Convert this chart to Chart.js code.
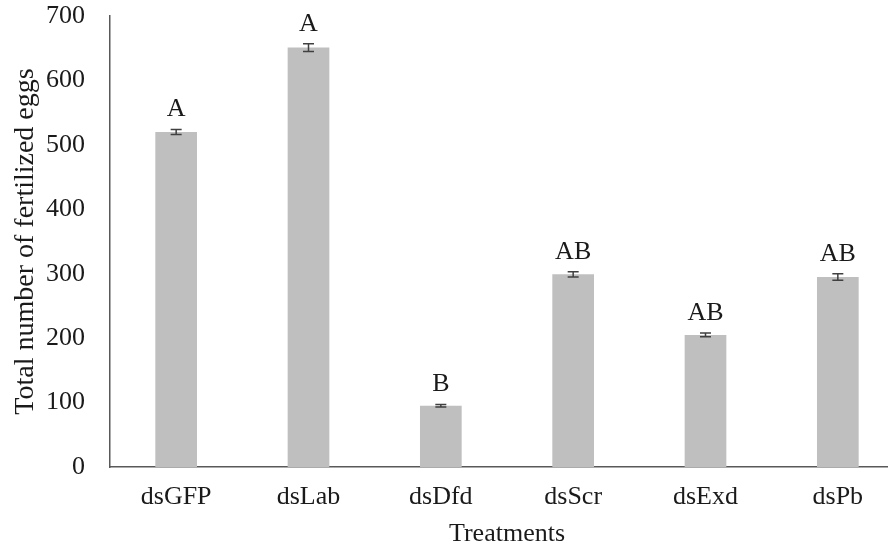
<!DOCTYPE html>
<html>
<head>
<meta charset="utf-8">
<script src="https://cdn.jsdelivr.net/npm/chart.js@4"></script>
<style>
  html, body { margin: 0; padding: 0; background: #fff; overflow: hidden; }
  #wrap { position: relative; width: 910px; height: 550px; }
</style>
</head>
<body>
<div id="wrap"><canvas id="chart"></canvas></div>
<script>
'use strict'

/* global Chart */

const treatments = ['dsGFP', 'dsLab', 'dsDfd', 'dsScr', 'dsExd', 'dsPb']
const eggMeans = [520, 651, 95, 299, 205, 295]
const eggErrors = [4, 6, 2, 4, 3, 5]
const groupLetters = ['A', 'A', 'B', 'AB', 'AB', 'AB']

const serif = "'Liberation Serif', 'Times New Roman', serif"

// error bars + significance letters on top of the bars
const annotate = {
  id: 'annotate',
  afterDatasetsDraw (chart) {
    const ctx = chart.ctx
    const y = chart.scales.y
    const meta = chart.getDatasetMeta(0)
    ctx.save()
    meta.data.forEach((bar, i) => {
      const x = bar.x
      const top = y.getPixelForValue(eggMeans[i] + eggErrors[i])
      const bottom = y.getPixelForValue(eggMeans[i] - eggErrors[i])
      ctx.strokeStyle = '#404040'
      ctx.lineWidth = 1.5
      ctx.beginPath()
      ctx.moveTo(x, top)
      ctx.lineTo(x, bottom)
      ctx.moveTo(x - 5.5, top)
      ctx.lineTo(x + 5.5, top)
      ctx.moveTo(x - 5.5, bottom)
      ctx.lineTo(x + 5.5, bottom)
      ctx.stroke()

      ctx.fillStyle = '#1a1a1a'
      ctx.font = '26px ' + serif
      ctx.textAlign = 'center'
      ctx.textBaseline = 'middle'
      ctx.fillText(groupLetters[i], x, top - 20)
    })
    ctx.restore()
  }
}

const chart = new Chart(document.getElementById('chart'), {
  type: 'bar',
  data: {
    labels: treatments,
    datasets: [{
      label: 'Total number of fertilized eggs',
      data: eggMeans,
      backgroundColor: '#bfbfbf',
      borderWidth: 0,
      barPercentage: 0.315,
      categoryPercentage: 1
    }]
  },
  options: {
    responsive: true,
    maintainAspectRatio: false,
    animation: false,
    layout: {
      padding: { top: 16, right: 6, left: 0, bottom: 0 }
    },
    plugins: {
      legend: { display: false },
      tooltip: { enabled: false }
    },
    scales: {
      x: {
        grid: { display: false, drawTicks: false },
        border: { display: true, color: '#595959', width: 1.5 },
        ticks: {
          color: '#1a1a1a',
          padding: 15,
          font: { family: serif, size: 26 }
        },
        title: {
          display: true,
          text: 'Treatments',
          color: '#1a1a1a',
          padding: { top: 0, bottom: 0 },
          font: { family: serif, size: 26 }
        },
        afterFit (scale) {
          scale.height = 83
          scale.paddingLeft = 0
          scale.paddingRight = 0
        }
      },
      y: {
        min: 0,
        max: 700,
        grid: { display: false, drawTicks: false },
        border: { display: true, color: '#595959', width: 1.5 },
        ticks: {
          stepSize: 100,
          color: '#1a1a1a',
          padding: 25,
          font: { family: serif, size: 26 }
        },
        title: {
          display: true,
          text: 'Total number of fertilized eggs',
          color: '#1a1a1a',
          padding: { top: 9, bottom: 0 },
          font: { family: serif, size: 28 }
        },
        afterFit (scale) {
          scale.width = 110
          scale.paddingTop = 0
          scale.paddingBottom = 0
        }
      }
    }
  },
  plugins: [annotate]
})
</script>
</body>
</html>
